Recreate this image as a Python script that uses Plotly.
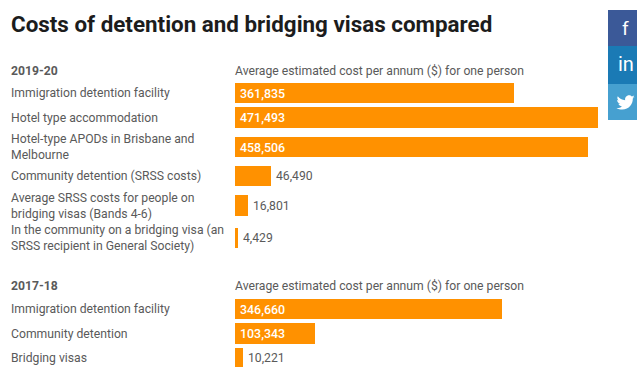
import plotly.graph_objects as go

# Table content
title = "Costs of detention and bridging visas compared"
subtitle = "Average estimated cost per annum ($) for one person"
groups = ["2019-20", "2017-18"]
labels_1920 = [
    "Immigration detention facility",
    "Hotel type accommodation",
    "Hotel-type APODs in Brisbane and<br>Melbourne",
    "Community detention (SRSS costs)",
    "Average SRSS costs for people on<br>bridging visas (Bands 4-6)",
    "In the community on a bridging visa (an<br>SRSS recipient in General Society)",
]
values_1920 = [361835, 471493, 458506, 46490, 16801, 4429]
labels_1718 = ["Immigration detention facility", "Community detention", "Bridging visas"]
values_1718 = [346660, 103343, 10221]

# Page layout in pixels
W, H = 637, 367
BAR_LEFT = 235
PX_PER_UNIT = 363 / 471493
BAR_H = 20.5
rows_1920 = [93.2, 117.7, 147.2, 176.2, 205.7, 238.2]
rows_1718 = [309.2, 333.7, 358.2]
header_rows = [71, 286]
text_grey = "#5a5a5a"
orange = "#ff9100"

values = values_1920 + values_1718
rows = rows_1920 + rows_1718
labels = labels_1920 + labels_1718

fig = go.Figure()
fig.add_trace(go.Bar(
    x=values,
    y=rows,
    orientation="h",
    width=BAR_H,
    marker=dict(color=orange, line_width=0),
    cliponaxis=False,
    hoverinfo="skip",
))


def label(x, y, text, size=12.2, color=text_grey, bold=False):
    """Left-aligned text placed in page pixels."""
    return dict(
        xref="x2", yref="y2", x=x, y=y, text=f"<b>{text}</b>" if bold else text,
        xanchor="left", yanchor="middle", align="left", showarrow=False,
        font=dict(family="Roboto", size=size, color=color), borderpad=0,
    )


notes = [label(10, 24, title, size=22.4, color="#1c1c1c", bold=True)]
for name, py in zip(groups, header_rows):
    notes.append(label(10, py, name, bold=True))
    notes.append(label(233.5, py, subtitle))
for text, py in zip(labels, rows):
    notes.append(label(10, py, text))

# Value labels: white inside the long bars, grey just past the short ones
for v, py in zip(values, rows):
    inside = v > 100000
    notes.append(dict(
        xref="x", yref="y", x=0 if inside else v, y=py, text=f"{v:,}",
        xanchor="left", yanchor="middle", showarrow=False, borderpad=0,
        xshift=4 if inside else 4,
        font=dict(family="Roboto", size=12.4 if inside else 12.2,
                  weight=500 if inside else 400,
                  color="white" if inside else text_grey),
    ))

# Share buttons down the right edge
buttons = [(10, 46, "#3b5998"), (46, 84, "#1a7ab5"), (84, 120, "#46a0d0")]
shapes = [
    dict(type="rect", xref="x2", yref="y2", x0=608, x1=637, y0=y0, y1=y1,
         fillcolor=c, line_width=0, layer="above")
    for y0, y1, c in buttons
]
notes.append(dict(xref="x2", yref="y2", x=625, y=28, text="f", showarrow=False,
                  font=dict(family="Roboto", size=19, color="white")))
notes.append(dict(xref="x2", yref="y2", x=626, y=64, text="in", showarrow=False,
                  font=dict(family="Roboto", size=20, color="white")))

# Bird glyph, outline drawn on a 24-unit grid


def bird_path(ox, oy, s):
    segs = [
        ("M", [(23.95, 4.57)]),
        ("C", [(23.07, 4.96), (22.12, 5.23), (21.13, 5.35)]),
        ("C", [(22.14, 4.74), (22.92, 3.78), (23.29, 2.63)]),
        ("C", [(22.34, 3.19), (21.29, 3.59), (20.17, 3.83)]),
        ("C", [(19.27, 2.87), (17.99, 2.27), (16.58, 2.27)]),
        ("C", [(13.18, 2.27), (10.68, 5.44), (11.45, 8.74)]),
        ("C", [(7.36, 8.55), (3.74, 6.59), (1.67, 3.6)]),
        ("C", [(0.56, 5.5), (1.1, 8.0), (3.0, 9.27)]),
        ("C", [(2.2, 9.25), (1.45, 9.03), (0.78, 8.67)]),
        ("C", [(0.78, 11.0), (2.4, 13.0), (4.73, 13.5)]),
        ("C", [(4.0, 13.7), (3.25, 13.72), (2.52, 13.58)]),
        ("C", [(3.15, 15.5), (4.9, 16.9), (7.1, 16.95)]),
        ("C", [(5.0, 18.6), (2.4, 19.3), (0, 19.0)]),
        ("C", [(2.2, 20.4), (4.8, 21.2), (7.55, 21.2)]),
        ("C", [(16.6, 21.2), (21.75, 13.5), (21.45, 6.6)]),
        ("C", [(22.4, 5.9), (23.25, 5.3), (23.95, 4.57)]),
    ]
    out = []
    for cmd, pts in segs:
        out.append(cmd + " ".join(f"{ox + s * a:.2f},{oy + s * b:.2f}" for a, b in pts))
    return " ".join(out) + " Z"


shapes.append(dict(type="path", xref="x2", yref="y2", path=bird_path(616.5, 93.5, 0.76),
                   fillcolor="white", line_width=0, layer="above"))

fig.update_layout(
    width=W,
    height=H,
    margin=dict(l=0, r=0, t=0, b=0),
    paper_bgcolor="white",
    plot_bgcolor="white",
    showlegend=False,
    bargap=0,
    xaxis=dict(range=[-BAR_LEFT / PX_PER_UNIT, (W - BAR_LEFT) / PX_PER_UNIT],
               visible=False, domain=[0, 1], fixedrange=True),
    yaxis=dict(range=[H, 0], visible=False, domain=[0, 1], fixedrange=True),
    xaxis2=dict(range=[0, W], visible=False, overlaying="x", anchor="y2", fixedrange=True),
    yaxis2=dict(range=[H, 0], visible=False, overlaying="y", anchor="x2", fixedrange=True),
    annotations=notes,
    shapes=shapes,
)
# An empty trace keeps the overlay pixel axes alive
fig.add_trace(go.Scatter(x=[], y=[], xaxis="x2", yaxis="y2", hoverinfo="skip"))

fig.write_html("out.html", config=dict(displayModeBar=False))
